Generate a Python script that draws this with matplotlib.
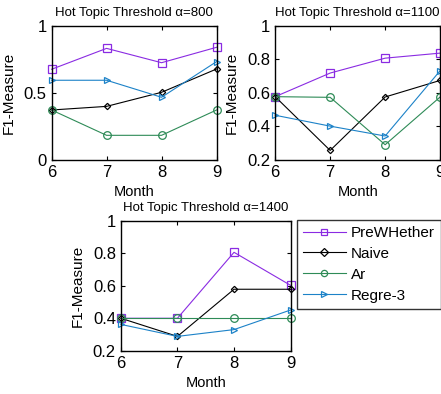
import matplotlib
matplotlib.use("Agg")
import matplotlib.pyplot as plt
from matplotlib.ticker import FuncFormatter

plt.rcParams['font.family'] = ['Liberation Sans', 'DejaVu Sans']

months = [6, 7, 8, 9]
series_names = ["PreWHether", "Naive", "Ar", "Regre-3"]

titles = ["Hot Topic Threshold \u03b1=800",
          "Hot Topic Threshold \u03b1=1100",
          "Hot Topic Threshold \u03b1=1400"]

vals_800 = {
    "PreWHether": [0.677, 0.833, 0.726, 0.841],
    "Naive":      [0.373, 0.400, 0.505, 0.679],
    "Ar":         [0.373, 0.184, 0.184, 0.373],
    "Regre-3":    [0.595, 0.595, 0.468, 0.734],
}
vals_1100 = {
    "PreWHether": [0.578, 0.719, 0.808, 0.838],
    "Naive":      [0.578, 0.257, 0.576, 0.675],
    "Ar":         [0.578, 0.574, 0.291, 0.576],
    "Regre-3":    [0.467, 0.402, 0.343, 0.733],
}
vals_1400 = {
    "PreWHether": [0.400, 0.400, 0.807, 0.603],
    "Naive":      [0.400, 0.288, 0.579, 0.579],
    "Ar":         [0.400, 0.400, 0.400, 0.400],
    "Regre-3":    [0.362, 0.288, 0.330, 0.451],
}

ylims = [(0, 1), (0.2, 1), (0.2, 1)]
yticks = [[0, 0.5, 1], [0.2, 0.4, 0.6, 0.8, 1], [0.2, 0.4, 0.6, 0.8, 1]]

styles = {
    "PreWHether": dict(color="#8A2BE2", marker="s", ms=5.5),
    "Naive":      dict(color="#000000", marker="D", ms=3.2),
    "Ar":         dict(color="#2E8B57", marker="o", ms=5.5),
    "Regre-3":    dict(color="#1C82C8", marker=">", ms=5),
}

fig = plt.figure(figsize=(4.41, 3.94), dpi=100)
positions = [
    [0.117, 0.594, 0.374, 0.340],
    [0.624, 0.594, 0.374, 0.340],
    [0.274, 0.110, 0.385, 0.329],
]

fmt = FuncFormatter(lambda v, p: ("%g" % v))
handles = []
for i, (data, pos) in enumerate(zip([vals_800, vals_1100, vals_1400], positions)):
    ax = fig.add_axes(pos)
    for name in series_names:
        st = styles[name]
        h, = ax.plot(months, data[name], color=st["color"], marker=st["marker"],
                     markersize=st["ms"], markerfacecolor="none",
                     markeredgecolor=st["color"], lw=0.8, mew=0.9,
                     label=name, clip_on=False)
        if i == 0:
            handles.append(h)
    ax.set_xlim(6, 9)
    ax.set_ylim(*ylims[i])
    ax.set_xticks(months)
    ax.set_yticks(yticks[i])
    ax.yaxis.set_major_formatter(fmt)
    ax.tick_params(direction="in", top=True, right=True, length=3,
                   labelsize=12, width=0.8)
    for s in ax.spines.values():
        s.set_linewidth(1.0)
    ax.set_title(titles[i], fontsize=9.5, pad=7)
    ax.set_xlabel("Month", fontsize=10.5, labelpad=4)
    ax.set_ylabel("F1-Measure", fontsize=11, labelpad=6)

leg = fig.legend(handles=handles, labels=series_names,
                 loc="upper left", bbox_to_anchor=(0.673, 0.442),
                 frameon=True, fancybox=False, fontsize=11,
                 handlelength=2.8, handletextpad=0.35, borderpad=0.4,
                 labelspacing=0.45, borderaxespad=0)
leg.get_frame().set_edgecolor("black")
leg.get_frame().set_linewidth(1.0)
for lh in leg.legend_handles:
    lh.set_markersize(4.5)

fig.savefig("out.png", dpi=100)
